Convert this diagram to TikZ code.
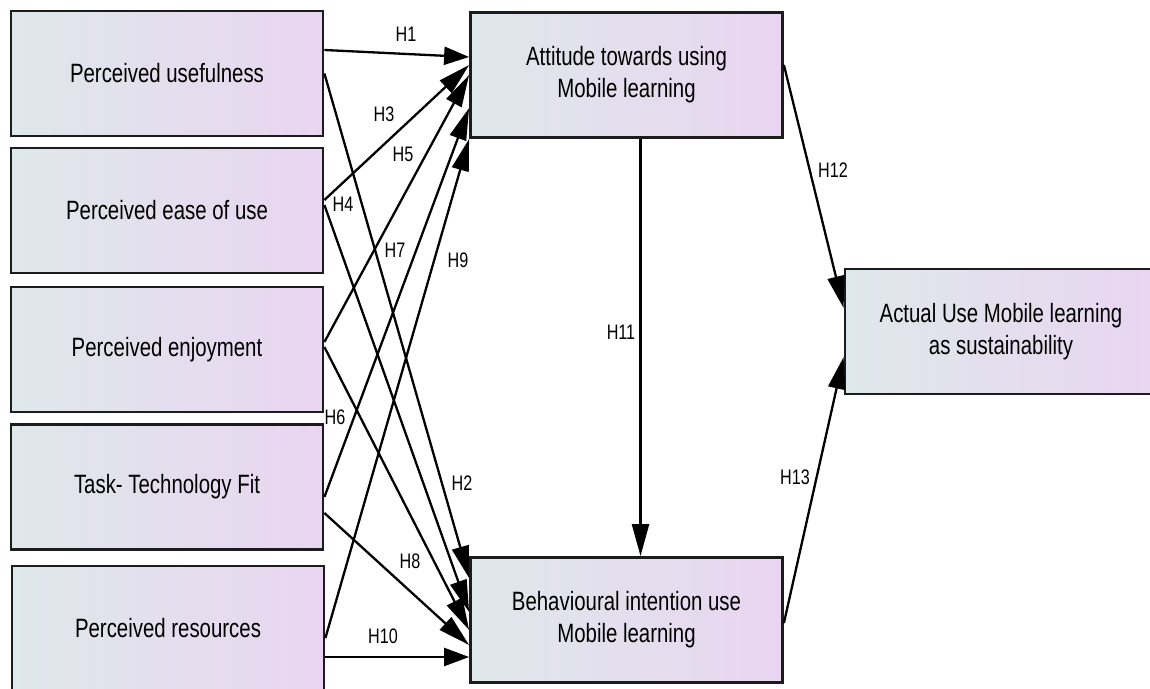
\documentclass[tikz,border=0pt]{standalone}
\usepackage{fontspec}
\setmainfont{Liberation Sans}[FakeStretch=0.77]
\usetikzlibrary{arrows.meta}
\definecolor{boxleft}{RGB}{223,232,234}
\definecolor{boxright}{RGB}{233,213,241}
\definecolor{edge}{RGB}{28,28,28}
\begin{document}
\begin{tikzpicture}[x=1pt,y=-1pt,
  construct/.style={draw=edge, line width=2.8pt, left color=boxleft, right color=boxright,
    minimum width=312pt, minimum height=125pt, align=center, inner sep=0pt,
    font=\fontsize{26.5}{32}\selectfont},
  link/.style={line width=2.3pt, draw=black, -{Triangle[length=32pt,width=17pt]}},
  flat/.style={-{Triangle[length=25pt,width=18pt]}},
  hyp/.style={inner sep=0pt, font=\fontsize{21}{21}\selectfont}
]
\clip (0,0) rectangle (1150,688);
\fill[white] (0,0) rectangle (1150,688);

% constructs
\node[construct] (pu)   at (167,73.5)  {Perceived usefulness};
\node[construct] (peou) at (167,210.5) {Perceived ease of use};
\node[construct] (pe)   at (167,349.5) {Perceived enjoyment};
\node[construct] (ttf)  at (167,487)   {Task- Technology Fit};
\node[construct] (pr)   at (168,628.5) {Perceived resources};
\node[construct] (att)  at (626.5,75)  {Attitude towards using\\Mobile learning};
\node[construct] (bi)   at (626.5,620) {Behavioural intention use\\Mobile learning};
\node[construct] (au)   at (1001,331.5) {Actual Use Mobile learning\\as sustainability};

% hypothesised paths
\draw[link,flat] ([yshift=23.5pt]pu.east)   -- ([yshift=18pt]att.west);   % H1
\draw[link]      (pu.east)                  -- ([yshift=42pt]bi.west);    % H2
\draw[link]      ([yshift=10.5pt]peou.east) -- ([yshift=10pt]att.west);   % H3
\draw[link]      ([yshift=5.5pt]peou.east)  -- ([yshift=8pt]bi.west);     % H4
\draw[link]      ([yshift=7.5pt]pe.east)    -- (att.west);                % H5
\draw[link]      ([yshift=2.5pt]pe.east)    -- ([yshift=-10pt]bi.west);   % H6
\draw[link]      ([yshift=-10pt]ttf.east)   -- ([yshift=-33pt]att.west);  % H7
\draw[link]      ([yshift=-26pt]ttf.east)   -- ([yshift=-25pt]bi.west);   % H8
\draw[link]      ([yshift=-9.5pt]pr.east)   -- (att.south west);          % H9
\draw[link,flat] ([yshift=-28.5pt]pr.east)  -- ([yshift=-37pt]bi.west);   % H10
\draw[link]      ([xshift=14pt]att.south)   -- ([xshift=14pt]bi.north);   % H11
\draw[link]      ([yshift=10pt]att.east)    -- ([yshift=23.5pt]au.west);  % H12
\draw[link]      ([yshift=-3pt]bi.east)     -- ([yshift=-25.5pt]au.west); % H13

% path labels
\node[hyp] (lh1)  at (406,34)  {H1};
\node[hyp] (lh2)  at (462,483) {H2};
\node[hyp] (lh3)  at (384,114) {H3};
\node[hyp] (lh4)  at (343,204) {H4};
\node[hyp] (lh5)  at (403,154) {H5};
\node[hyp] (lh6)  at (335,417) {H6};
\node[hyp] (lh7)  at (395,250) {H7};
\node[hyp] (lh8)  at (410,561) {H8};
\node[hyp] (lh9)  at (458,260) {H9};
\node[hyp] (lh10) at (383,636) {H10};
\node[hyp] (lh11) at (621,332) {H11};
\node[hyp] (lh12) at (833,170) {H12};
\node[hyp] (lh13) at (795,477) {H13};
\end{tikzpicture}
\end{document}
